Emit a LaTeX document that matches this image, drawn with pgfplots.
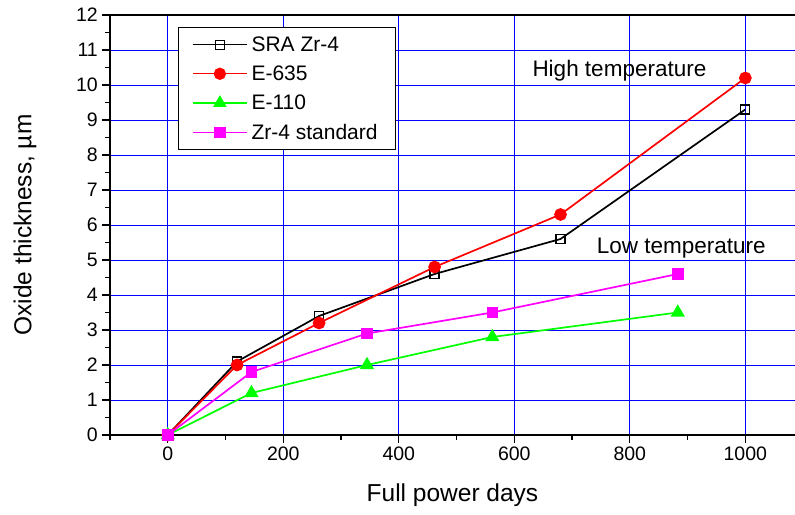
\documentclass[border=0pt]{standalone}
\usepackage{fontspec}
\setmainfont{Liberation Sans}
\usepackage{pgfplots}
\pgfplotsset{compat=1.18}
\definecolor{mymag}{RGB}{255,0,255}
\definecolor{mygreen}{RGB}{0,255,0}
\definecolor{myred}{RGB}{255,0,0}
\begin{document}
\begin{tikzpicture}
\begin{axis}[name=ax, scale only axis, width=685pt, height=420pt,
 xmin=-100, xmax=1086, ymin=0, ymax=12,
 axis x line*=bottom, axis y line*=left,
 xtick={0,200,...,1000}, ytick={0,1,...,12},
 minor xtick={-100,100,300,500,700,900},
 minor ytick={0.5,1.5,...,11.5},
 tick align=outside, major tick length=8pt, minor tick length=5pt,
 tick style={black, line width=1.3pt},
 axis line style={line width=1.3pt, -},
 grid=major, major grid style={blue, line width=0.9pt},
 /pgf/number format/assume math mode=true,
 /pgf/number format/set thousands separator={},
 ticklabel style={font=\fontsize{19.5}{19.5}\selectfont},
 xlabel={Full power days}, ylabel={Oxide thickness, µm},
 label style={font=\fontsize{24.5}{24.5}\selectfont},
 xlabel style={at={(axis description cs:0.5,-0.143)}, anchor=center},
 ylabel style={at={(axis description cs:-0.124,0.5)}, anchor=center},
 clip=false,
 line width=1.7pt,
 legend image code/.code={\draw[mark repeat=2,mark phase=2,#1] plot coordinates {(0pt,0pt)(27pt,0pt)(54pt,0pt)};},
 legend style={at={(axis cs:17,11.66)}, anchor=north west, draw=black, line width=1.3pt,
   font=\fontsize{21}{21}\selectfont, legend cell align=left, row sep=9pt, inner xsep=14pt, inner ysep=7pt,
   nodes={inner xsep=4pt}},
]
\addplot[black, mark=square, mark size=4.5pt, mark options={fill=white, line width=1.2pt}] coordinates {(0,0) (120,2.1) (262,3.4) (462,4.6) (680,5.6) (1000,9.3)};
\addlegendentry{SRA Zr-4}
\addplot[myred, mark=*, mark size=5.5pt] coordinates {(0,0) (120,2.0) (262,3.2) (462,4.8) (680,6.3) (1000,10.2)};
\addlegendentry{E-635}
\addplot[mygreen, mark=triangle*, mark size=6.5pt] coordinates {(0,0) (145,1.2) (345,2.0) (562,2.8) (883,3.5)};
\addlegendentry{E-110}
\addplot[mymag, mark=square*, mark size=5pt] coordinates {(0,0) (145,1.8) (345,2.9) (562,3.5) (883,4.6)};
\addlegendentry{Zr-4 standard}
\draw[line width=1.3pt] (rel axis cs:0,1) -- (rel axis cs:1,1);
\node[font=\fontsize{22.5}{22.5}\selectfont] at (axis cs:782,10.4) {High temperature};
\node[font=\fontsize{22.5}{22.5}\selectfont] at (axis cs:889,5.35) {Low temperature};
\end{axis}
\pgfresetboundingbox
\path ([shift={(-110pt,-79pt)}]ax.south west) rectangle ([shift={(0pt,15pt)}]ax.north east);
\end{tikzpicture}
\end{document}
